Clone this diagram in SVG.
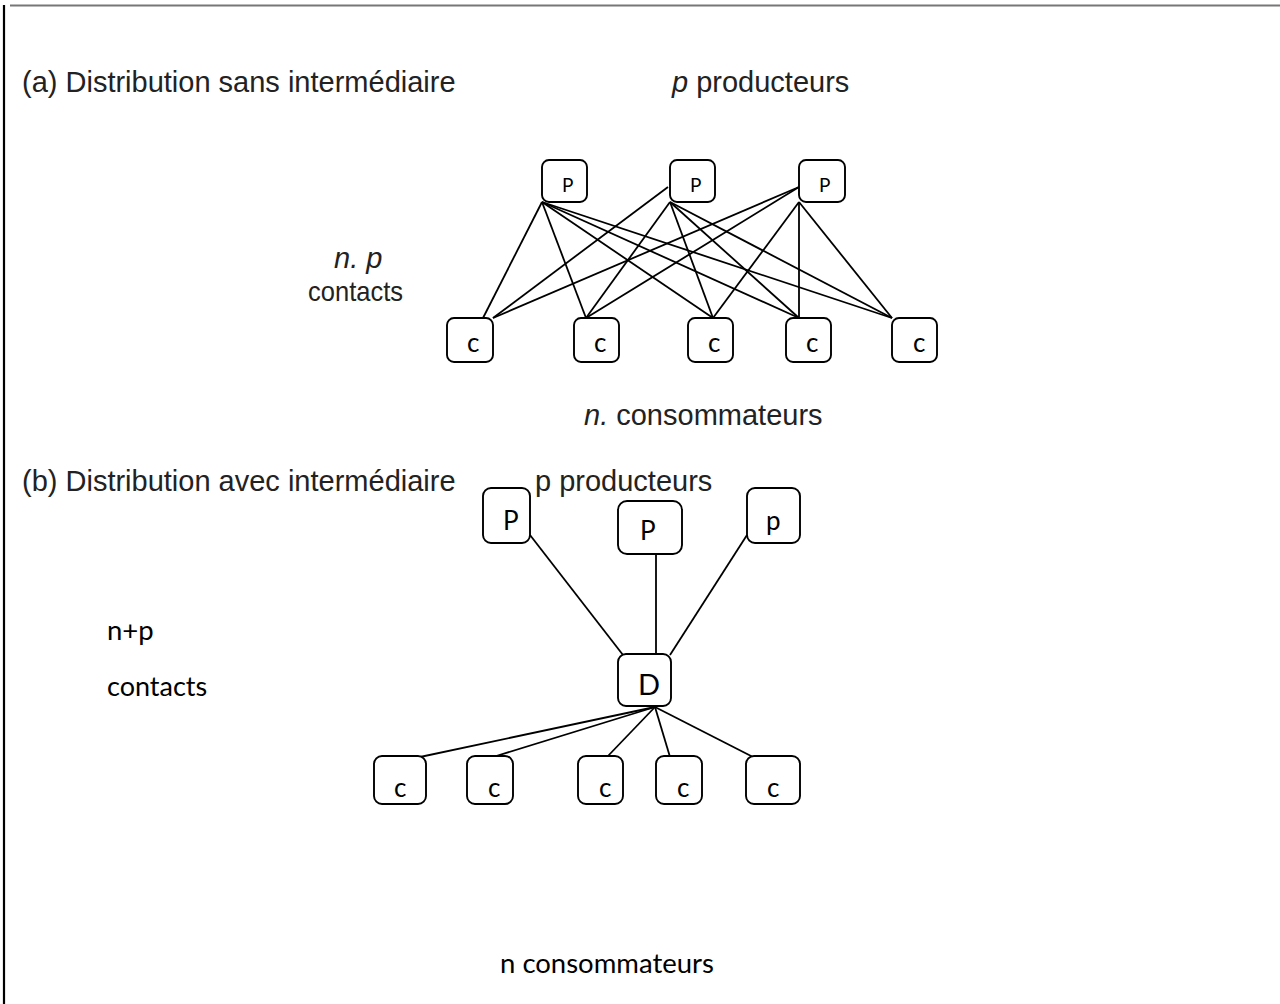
<svg xmlns="http://www.w3.org/2000/svg" width="1280" height="1004" viewBox="0 0 1280 1004">
<style>
.box{fill:#fff;stroke:#000;stroke-width:1.9}
.ln{stroke:#000;stroke-width:1.8;fill:none}
.ar{font-family:"Liberation Sans",Arial,sans-serif;font-size:29px;fill:#222}
.cb{font-family:Lato,"Open Sans",sans-serif;fill:#000}
.sm{font-size:19px}
.md{font-size:26px}
.lg{font-size:27.5px}
.it{font-style:italic}
</style>
<rect width="1280" height="1004" fill="#fff"/>
<g id="frame">
<line x1="10" y1="5.5" x2="1280" y2="5.5" stroke="#777" stroke-width="2"/>
<line x1="4" y1="5" x2="4" y2="1004" stroke="#000" stroke-width="2.2"/>
</g>
<g id="labels">
<text class="ar" x="22" y="92">(a) Distribution sans intermédiaire</text>
<text class="ar" x="672" y="92"><tspan class="it">p</tspan> producteurs</text>
<text class="ar" x="334" y="268"><tspan class="it">n. p</tspan></text>
<text class="ar" x="308" y="301" style="font-size:28px" textLength="95" lengthAdjust="spacingAndGlyphs">contacts</text>
<text class="ar" x="584" y="425"><tspan class="it">n.</tspan> consommateurs</text>
<text class="ar" x="22" y="491">(b) Distribution avec intermédiaire</text>
<text class="cb lg" x="107" y="640">n+p</text>
<text class="cb" font-size="27" x="107" y="696">contacts</text>
<text class="cb lg" x="500" y="973">n consommateurs</text>
</g>
<g id="connectors">
<line class="ln" x1="542" y1="202" x2="483" y2="318"/>
<line class="ln" x1="542" y1="202" x2="586" y2="318"/>
<line class="ln" x1="542" y1="202" x2="713" y2="318"/>
<line class="ln" x1="542" y1="202" x2="799" y2="318"/>
<line class="ln" x1="542" y1="202" x2="892" y2="318"/>
<line class="ln" x1="668" y1="187" x2="493" y2="318"/>
<line class="ln" x1="670" y1="202" x2="586" y2="318"/>
<line class="ln" x1="670" y1="202" x2="713" y2="318"/>
<line class="ln" x1="670" y1="202" x2="799" y2="318"/>
<line class="ln" x1="670" y1="202" x2="892" y2="318"/>
<line class="ln" x1="799" y1="187" x2="493" y2="318"/>
<line class="ln" x1="799" y1="187" x2="586" y2="318"/>
<line class="ln" x1="799" y1="202" x2="713" y2="318"/>
<line class="ln" x1="799" y1="202" x2="799" y2="318"/>
<line class="ln" x1="799" y1="202" x2="892" y2="318"/>
<line class="ln" x1="530" y1="535" x2="623" y2="655"/>
<line class="ln" x1="656" y1="555" x2="656" y2="655"/>
<line class="ln" x1="747" y1="535" x2="670" y2="655"/>
<line class="ln" x1="655" y1="707" x2="420" y2="757"/>
<line class="ln" x1="655" y1="707" x2="493" y2="757"/>
<line class="ln" x1="655" y1="707" x2="607" y2="757"/>
<line class="ln" x1="655" y1="707" x2="670" y2="757"/>
<line class="ln" x1="655" y1="707" x2="753" y2="757"/>
</g>
<g id="a-p1"><rect class="box" x="542" y="160" width="45" height="42" rx="7"/><text class="cb sm" x="562" y="192">P</text></g>
<g id="a-p2"><rect class="box" x="670" y="160" width="45" height="42" rx="7"/><text class="cb sm" x="690" y="192">P</text></g>
<g id="a-p3"><rect class="box" x="799" y="160" width="46" height="42" rx="7"/><text class="cb sm" x="819" y="192">P</text></g>
<g id="a-c1"><rect class="box" x="447" y="318" width="46" height="44" rx="7"/><text class="cb md" x="467" y="352">c</text></g>
<g id="a-c2"><rect class="box" x="574" y="318" width="45" height="44" rx="7"/><text class="cb md" x="594" y="352">c</text></g>
<g id="a-c3"><rect class="box" x="688" y="318" width="45" height="44" rx="7"/><text class="cb md" x="708" y="352">c</text></g>
<g id="a-c4"><rect class="box" x="786" y="318" width="45" height="44" rx="7"/><text class="cb md" x="806" y="352">c</text></g>
<g id="a-c5"><rect class="box" x="892" y="318" width="45" height="44" rx="7"/><text class="cb md" x="913" y="352">c</text></g>
<g id="b-p1"><rect class="box" x="483" y="488" width="47" height="55" rx="8"/><text class="cb md" x="503" y="530">P</text></g>
<g id="b-p2"><rect class="box" x="618" y="501" width="64" height="53" rx="9"/><text class="cb md" x="640" y="540">P</text></g>
<g id="b-p3"><rect class="box" x="747" y="488" width="53" height="55" rx="8"/><text class="cb md" x="766" y="530">p</text></g>
<text class="ar" x="535" y="491">p producteurs</text>
<g id="b-d"><rect class="box" x="618" y="654" width="53" height="52" rx="8"/><text class="cb" font-size="29" x="638" y="695">D</text></g>
<g id="b-c1"><rect class="box" x="374" y="756" width="52" height="48" rx="8"/><text class="cb md" x="394" y="797">c</text></g>
<g id="b-c2"><rect class="box" x="467" y="756" width="46" height="48" rx="8"/><text class="cb md" x="488" y="797">c</text></g>
<g id="b-c3"><rect class="box" x="578" y="756" width="45" height="48" rx="8"/><text class="cb md" x="599" y="797">c</text></g>
<g id="b-c4"><rect class="box" x="656" y="756" width="46" height="48" rx="8"/><text class="cb md" x="677" y="797">c</text></g>
<g id="b-c5"><rect class="box" x="746" y="756" width="54" height="48" rx="8"/><text class="cb md" x="767" y="797">c</text></g>
</svg>
